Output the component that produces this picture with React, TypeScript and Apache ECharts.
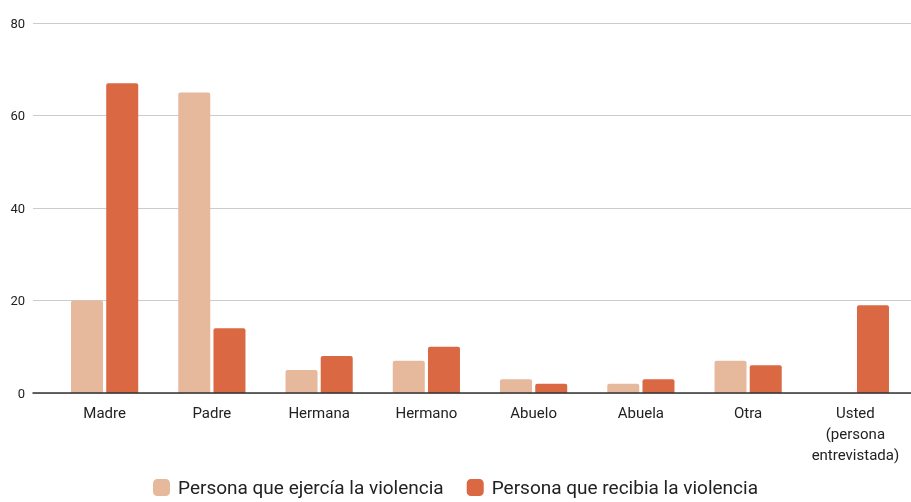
import React, { useEffect, useRef } from "react";
import * as echarts from "echarts";

const categories = ["Madre", "Padre", "Hermana", "Hermano", "Abuelo", "Abuela", "Otra", "Usted\n(persona\nentrevistada)"];
const ejercia = [20, 65, 5, 7, 3, 2, 7, 0];
const recibia = [67, 14, 8, 10, 2, 3, 6, 19];
const seriesNames = ["Persona que ejercía la violencia", "Persona que recibia la violencia"];
const yTicks = [0, 20, 40, 60, 80];

export default function App() {
  const ref = useRef<HTMLDivElement>(null);
  useEffect(() => {
    const chart = echarts.init(ref.current!, null, { renderer: "svg" });
    const font = "Roboto, 'Noto Sans', sans-serif";
    const top = 23;
    const bottom = 109;
    chart.setOption({
      animation: false,
      textStyle: { fontFamily: font },
      legend: {
        bottom: 0,
        left: "center",
        itemWidth: 17,
        itemHeight: 17,
        itemGap: 23,
        icon: "roundRect",
        textStyle: { fontSize: 19, color: "#222", fontFamily: font, padding: [0, 0, 0, 3] },
        data: seriesNames,
      },
      grid: [
        { left: 51, right: 2, top, bottom },
        { left: 33, right: 0, top, bottom },
      ],
      xAxis: [
        {
          type: "category",
          gridIndex: 0,
          data: categories,
          axisTick: { show: false },
          axisLine: { show: false },
          axisLabel: { fontSize: 15, color: "#222", margin: 9, lineHeight: 21, interval: 0, fontFamily: font },
        },
        {
          type: "value",
          gridIndex: 1,
          min: 0,
          max: 1,
          axisLine: { show: true, lineStyle: { color: "#333", width: 1.5 } },
          axisTick: { show: false },
          axisLabel: { show: false },
          splitLine: { show: false },
          z: 5,
        },
      ],
      yAxis: [
        {
          type: "value",
          gridIndex: 0,
          min: 0,
          max: 80,
          interval: 20,
          show: false,
          splitLine: { show: false },
        },
        {
          type: "value",
          gridIndex: 1,
          min: yTicks[0],
          max: yTicks[yTicks.length - 1],
          interval: 20,
          axisLine: { show: false },
          axisTick: { show: false },
          axisLabel: { fontSize: 13, color: "#222", margin: 8, fontFamily: font },
          splitLine: { lineStyle: { color: "#cccccc", width: 1 } },
        },
      ],
      series: [
        {
          name: seriesNames[0],
          type: "bar",
          xAxisIndex: 0,
          yAxisIndex: 0,
          data: ejercia,
          barWidth: 32,
          barGap: "10%",
          itemStyle: { color: "#E6B89C", borderRadius: [2, 2, 0, 0] },
        },
        {
          name: seriesNames[1],
          type: "bar",
          xAxisIndex: 0,
          yAxisIndex: 0,
          data: recibia,
          barWidth: 32,
          itemStyle: { color: "#DA6843", borderRadius: [2, 2, 0, 0] },
        },
      ],
    });
    return () => chart.dispose();
  }, []);
  return <div ref={ref} style={{ width: 911, height: 502, position: "fixed", left: 0, top: 0 }} />;
}
